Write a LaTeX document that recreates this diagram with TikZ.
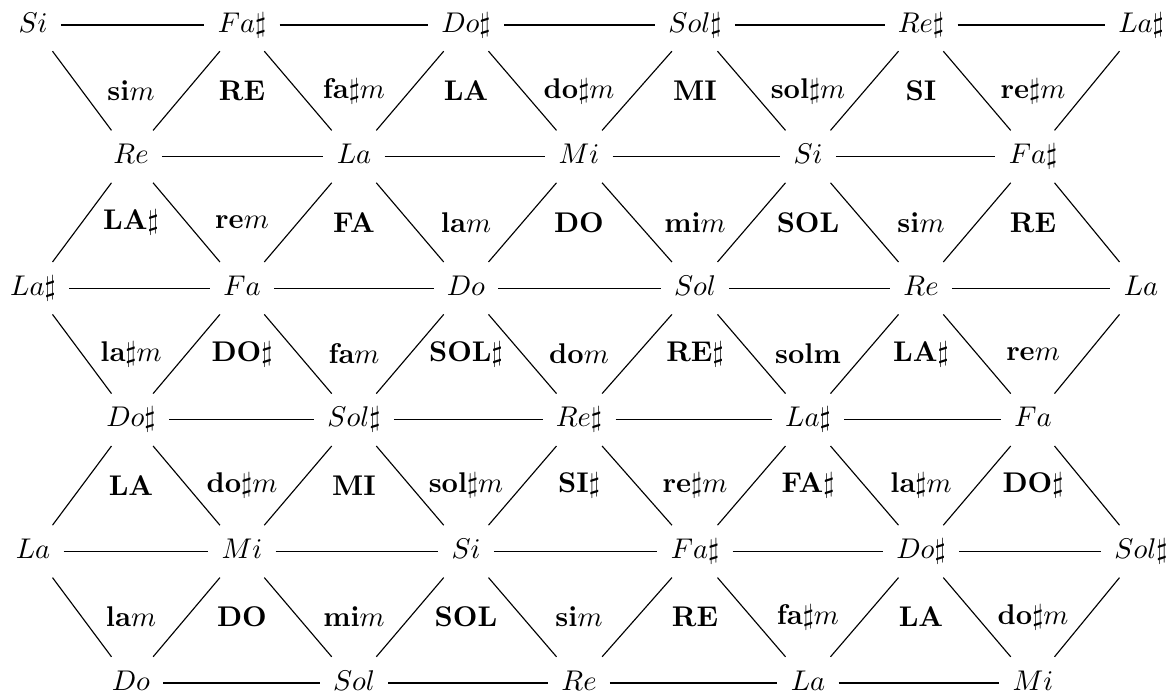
\documentclass[tikz,border=0pt]{standalone}
\tikzset{
  note/.style={inner sep=4.5pt, text height=7pt, text depth=2pt},
  chord/.style={inner sep=1pt},
  edge/.style={line width=0.4pt}
}
\begin{document}
\begin{tikzpicture}[x=0.351pt,y=-0.351pt]
\useasboundingbox (0,0) rectangle (1174,695);
% row 0
\node[note] (a0) at (33,25) {$Si$};
\node[note] (a1) at (242,25) {$Fa\sharp$};
\node[note] (a2) at (466,25) {$Do\sharp$};
\node[note] (a3) at (695,25) {$Sol\sharp$};
\node[note] (a4) at (921,25) {$Re\sharp$};
\node[note] (a5) at (1141,25) {$La\sharp$};
% row 1
\node[note] (b0) at (131,156.6) {$Re$};
\node[note] (b1) at (354,156.6) {$La$};
\node[note] (b2) at (579,156.6) {$Mi$};
\node[note] (b3) at (808,156.6) {$Si$};
\node[note] (b4) at (1033,156.6) {$Fa\sharp$};
% row 2
\node[note] (c0) at (33,288.2) {$La\sharp$};
\node[note] (c1) at (242,288.2) {$Fa$};
\node[note] (c2) at (466,288.2) {$Do$};
\node[note] (c3) at (695,288.2) {$Sol$};
\node[note] (c4) at (921,288.2) {$Re$};
\node[note] (c5) at (1141,288.2) {$La$};
% row 3
\node[note] (d0) at (131,419.8) {$Do\sharp$};
\node[note] (d1) at (354,419.8) {$Sol\sharp$};
\node[note] (d2) at (579,419.8) {$Re\sharp$};
\node[note] (d3) at (808,419.8) {$La\sharp$};
\node[note] (d4) at (1033,419.8) {$Fa$};
% row 4
\node[note] (e0) at (33,551.4) {$La$};
\node[note] (e1) at (242,551.4) {$Mi$};
\node[note] (e2) at (466,551.4) {$Si$};
\node[note] (e3) at (695,551.4) {$Fa\sharp$};
\node[note] (e4) at (921,551.4) {$Do\sharp$};
\node[note] (e5) at (1141,551.4) {$Sol\sharp$};
% row 5
\node[note] (f0) at (131,683) {$Do$};
\node[note] (f1) at (354,683) {$Sol$};
\node[note] (f2) at (579,683) {$Re$};
\node[note] (f3) at (808,683) {$La$};
\node[note] (f4) at (1033,683) {$Mi$};
% horizontal edges
\foreach \r in {a,c,e}
  \foreach \i/\j in {0/1,1/2,2/3,3/4,4/5}
    \draw[edge] (\r\i) -- (\r\j);
\foreach \r in {b,d,f}
  \foreach \i/\j in {0/1,1/2,2/3,3/4}
    \draw[edge] (\r\i) -- (\r\j);
% diagonal edges
\foreach \E/\O in {a/b,c/b,c/d,e/d,e/f}
  \foreach \j/\k in {0/1,1/2,2/3,3/4,4/5} {
    \draw[edge] (\O\j) -- (\E\j);
    \draw[edge] (\O\j) -- (\E\k);
  }
% chord labels, band 1
\node[chord] (p1) at (131,91) {$\mathbf{si}m$};
\node[chord] (p2) at (242,91) {$\mathbf{RE}$};
\node[chord] (p3) at (354,91) {$\mathbf{fa}\sharp m$};
\node[chord] (p4) at (466,91) {$\mathbf{LA}$};
\node[chord] (p5) at (579,91) {$\mathbf{do}\sharp m$};
\node[chord] (p6) at (695,91) {$\mathbf{MI}$};
\node[chord] (p7) at (808,91) {$\mathbf{sol}\sharp m$};
\node[chord] (p8) at (921,91) {$\mathbf{SI}$};
\node[chord] (p9) at (1033,91) {$\mathbf{re}\sharp m$};
% band 2
\node[chord] (q1) at (131,222.4) {$\mathbf{LA}\sharp$};
\node[chord] (q2) at (242,222.4) {$\mathbf{re}m$};
\node[chord] (q3) at (354,222.4) {$\mathbf{FA}$};
\node[chord] (q4) at (466,222.4) {$\mathbf{la}m$};
\node[chord] (q5) at (579,222.4) {$\mathbf{DO}$};
\node[chord] (q6) at (695,222.4) {$\mathbf{mi}m$};
\node[chord] (q7) at (808,222.4) {$\mathbf{SOL}$};
\node[chord] (q8) at (921,222.4) {$\mathbf{si}m$};
\node[chord] (q9) at (1033,222.4) {$\mathbf{RE}$};
% band 3
\node[chord] (r1) at (131,354) {$\mathbf{la}\sharp m$};
\node[chord] (r2) at (242,354) {$\mathbf{DO}\sharp$};
\node[chord] (r3) at (354,354) {$\mathbf{fa}m$};
\node[chord] (r4) at (466,354) {$\mathbf{SOL}\sharp$};
\node[chord] (r5) at (579,354) {$\mathbf{do}m$};
\node[chord] (r6) at (695,354) {$\mathbf{RE}\sharp$};
\node[chord] (r7) at (808,354) {$\mathbf{solm}$};
\node[chord] (r8) at (921,354) {$\mathbf{LA}\sharp$};
\node[chord] (r9) at (1033,354) {$\mathbf{re}m$};
% band 4
\node[chord] (s1) at (131,485.6) {$\mathbf{LA}$};
\node[chord] (s2) at (242,485.6) {$\mathbf{do}\sharp m$};
\node[chord] (s3) at (354,485.6) {$\mathbf{MI}$};
\node[chord] (s4) at (466,485.6) {$\mathbf{sol}\sharp m$};
\node[chord] (s5) at (579,485.6) {$\mathbf{SI}\sharp$};
\node[chord] (s6) at (695,485.6) {$\mathbf{re}\sharp m$};
\node[chord] (s7) at (808,485.6) {$\mathbf{FA}\sharp$};
\node[chord] (s8) at (921,485.6) {$\mathbf{la}\sharp m$};
\node[chord] (s9) at (1033,485.6) {$\mathbf{DO}\sharp$};
% band 5
\node[chord] (t1) at (131,617) {$\mathbf{la}m$};
\node[chord] (t2) at (242,617) {$\mathbf{DO}$};
\node[chord] (t3) at (354,617) {$\mathbf{mi}m$};
\node[chord] (t4) at (466,617) {$\mathbf{SOL}$};
\node[chord] (t5) at (579,617) {$\mathbf{si}m$};
\node[chord] (t6) at (695,617) {$\mathbf{RE}$};
\node[chord] (t7) at (808,617) {$\mathbf{fa}\sharp m$};
\node[chord] (t8) at (921,617) {$\mathbf{LA}$};
\node[chord] (t9) at (1033,617) {$\mathbf{do}\sharp m$};
\end{tikzpicture}
\end{document}
